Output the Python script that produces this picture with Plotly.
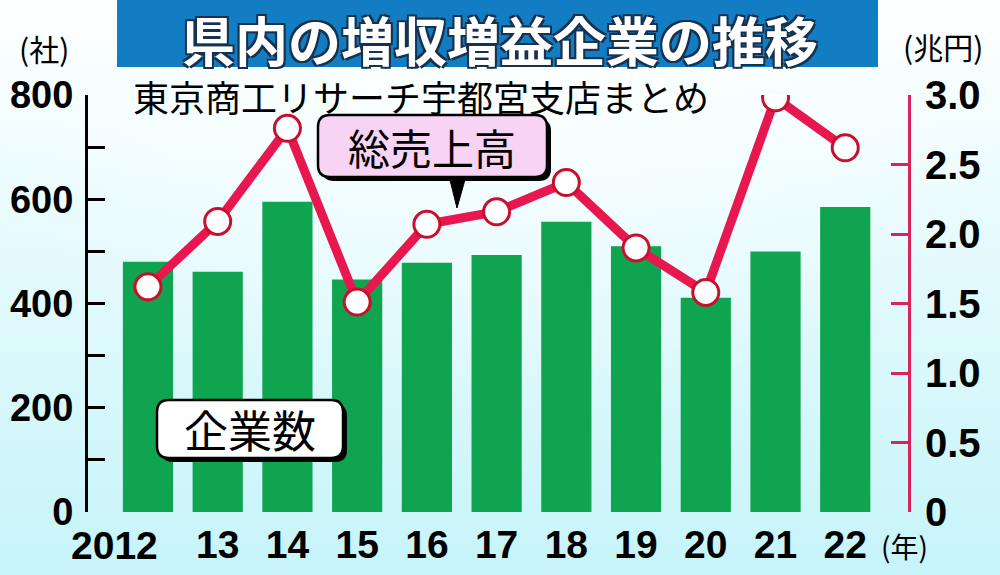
import base64
import plotly.graph_objects as go

# ---- data ----
years = ["2012", "13", "14", "15", "16", "17", "18", "19", "20", "21", "22"]
companies = [480, 461, 595, 446, 478, 493, 557, 510, 411, 500, 585]     # 企業数 (社)
sales = [1.62, 2.09, 2.76, 1.51, 2.07, 2.16, 2.37, 1.90, 1.58, 2.98, 2.62]  # 総売上高 (兆円)
left_ticks = [0, 200, 400, 600, 800]
right_ticks = [0, 0.5, 1.0, 1.5, 2.0, 2.5, 3.0]
right_ticktext = ["0", "0.5", "1.0", "1.5", "2.0", "2.5", "3.0"]
x_ticktext = [""] + years[1:]   # first year label drawn slightly left, as in the original

W, H = 1000, 575
L, R, T, B = 88, 908, 95, 512  # plot area in pixels

def px(x):
    return (x - L) / (R - L)

def py(y):
    return (B - y) / (B - T)

JP = "Noto Sans CJK JP"
NUM = "Liberation Sans, Arial, sans-serif"
GREEN = "#0fa550"
RED = "#e8174f"
AXRED = "#d8245a"

fig = go.Figure()
fig.add_trace(go.Bar(x=years, y=companies, marker=dict(color=GREEN, line=dict(width=0)),
                     yaxis="y", hoverinfo="skip"))
fig.add_trace(go.Scatter(x=years, y=sales, yaxis="y2", mode="lines+markers",
                         line=dict(color=RED, width=9),
                         marker=dict(size=26, color="white", line=dict(color="#c8102e", width=3)),
                         hoverinfo="skip"))

# background gradient
svg = ("<svg xmlns='http://www.w3.org/2000/svg' width='1000' height='575' preserveAspectRatio='none'>"
       "<defs><linearGradient id='g' x1='0' y1='0' x2='0' y2='1'>"
       "<stop offset='0' stop-color='#ffffff'/><stop offset='0.12' stop-color='#f6feff'/>"
       "<stop offset='1' stop-color='#c6f4f9'/></linearGradient>"
       "<radialGradient id='h' cx='0.5' cy='0.1' r='0.6'>"
       "<stop offset='0' stop-color='#ffffff' stop-opacity='0.7'/>"
       "<stop offset='1' stop-color='#ffffff' stop-opacity='0'/></radialGradient></defs>"
       "<rect width='1000' height='575' fill='url(#g)'/>"
       "<rect width='1000' height='575' fill='url(#h)'/></svg>")
src = "data:image/svg+xml;base64," + base64.b64encode(svg.encode()).decode()
fig.add_layout_image(dict(source=src, xref="paper", yref="paper", x=px(0), y=py(0),
                          sizex=px(W) - px(0), sizey=py(0) - py(H), sizing="stretch",
                          xanchor="left", yanchor="top", layer="below"))

shapes = []

def rrect(x0, y0, x1, y1, r, fill, line_color, lw):
    X0, X1 = px(x0), px(x1)
    Y0, Y1 = py(y0), py(y1)
    rx = r / (R - L)
    ry = r / (B - T)
    path = (f"M {X0+rx},{Y0} L {X1-rx},{Y0} Q {X1},{Y0} {X1},{Y0-ry} "
            f"L {X1},{Y1+ry} Q {X1},{Y1} {X1-rx},{Y1} L {X0+rx},{Y1} "
            f"Q {X0},{Y1} {X0},{Y1+ry} L {X0},{Y0-ry} Q {X0},{Y0} {X0+rx},{Y0} Z")
    return dict(type="path", path=path, xref="paper", yref="paper",
                fillcolor=fill, line=dict(color=line_color, width=lw), layer="above")

# title box
shapes.append(dict(type="rect", xref="paper", yref="paper", x0=px(117), x1=px(878),
                   y0=py(0), y1=py(67), fillcolor="#137dc3", line=dict(width=0)))
# 総売上高 callout
shapes.append(rrect(322, 119, 551, 181, 12, "black", "black", 0))
shapes.append(dict(type="path", xref="paper", yref="paper",
                   path=f"M {px(449)},{py(176)} L {px(466)},{py(176)} L {px(457)},{py(208)} Z",
                   fillcolor="black", line=dict(color="black", width=1)))
shapes.append(rrect(318, 115, 547, 177, 12, "#f8d4f4", "black", 2.5))
# 企業数 callout
shapes.append(rrect(161, 404, 347, 462, 12, "black", "black", 0))
shapes.append(rrect(157, 400, 343, 458, 12, "white", "black", 2.5))

def ann(text, x, y, size, xanchor="center", color="black", family=JP, **kw):
    return dict(text=text, x=px(x), y=py(y), xref="paper", yref="paper",
                xanchor=xanchor, yanchor="middle", showarrow=False,
                font=dict(family=family, size=size, color=color, **kw))

annotations = [
    ann("県内の増収増益企業の推移", 500, 39, 53, color="white", weight="bold",
        shadow="-2px -2px 0 #16324f, 2px -2px 0 #16324f, -2px 2px 0 #16324f, 2px 2px 0 #16324f"),
    ann("東京商工リサーチ宇都宮支店まとめ", 131, 96, 36, xanchor="left"),
    ann("総売上高", 432, 146, 42),
    ann("企業数", 250, 429, 44),
    ann("(社)", 44, 48, 30),
    ann("(兆円)", 943, 46, 30),
    ann("(年)", 904, 546, 28),
    ann(years[0], 114, 545, 39, family=NUM, weight="bold"),
]

fig.update_layout(
    width=W, height=H,
    margin=dict(l=L, r=W - R, t=T, b=H - B, pad=0, autoexpand=False),
    paper_bgcolor="#e8fbfd", plot_bgcolor="white",
    showlegend=False, bargap=0.28,
    shapes=shapes, annotations=annotations,
    xaxis=dict(type="category", range=[-0.86, 10.9], showline=False, ticks="",
               tickangle=0, automargin=False, tickvals=years, ticktext=x_ticktext,
               tickfont=dict(family=NUM, size=39, color="black", weight="bold"),
               ticklabelstandoff=6, showgrid=False, zeroline=False, fixedrange=True),
    yaxis=dict(range=[0, 800], tickvals=left_ticks, ticks="inside", ticklen=17, tickwidth=3,
               tickcolor="black", showline=True, linecolor="black", linewidth=3,
               automargin=False,
               minor=dict(dtick=100, ticks="inside", ticklen=17, tickwidth=3, tickcolor="black"),
               tickfont=dict(family=NUM, size=38, color="black", weight="bold"),
               ticklabelstandoff=4, showgrid=False, zeroline=False),
    yaxis2=dict(range=[0, 3.0], overlaying="y", side="right", tickvals=right_ticks,
                ticktext=right_ticktext, ticks="inside", ticklen=17, tickwidth=3,
                tickcolor=AXRED, showline=True, linecolor=AXRED, linewidth=3,
                automargin=False,
                tickfont=dict(family=NUM, size=40, color="black", weight="bold"),
                ticklabelstandoff=6, showgrid=False, zeroline=False),
)

fig.write_html("out.html", config={"displayModeBar": False},
               post_script="document.body.style.margin='0';document.body.style.overflow='hidden';")
